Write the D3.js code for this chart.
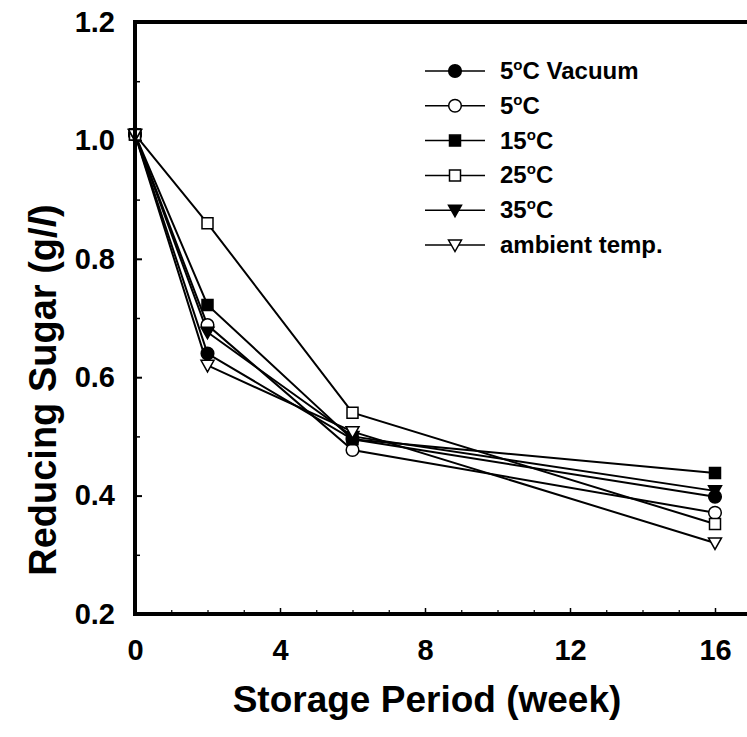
<!DOCTYPE html>
<html>
<head>
<meta charset="utf-8">
<script src="https://cdn.jsdelivr.net/npm/d3@7"></script>
<style>
  html, body { margin: 0; padding: 0; background: #fff; }
  svg { display: block; }
  text { font-family: "Liberation Sans", Arial, Helvetica, sans-serif; font-weight: bold; fill: #000; }
</style>
</head>
<body>
<svg id="chart" width="747" height="737"></svg>
<script>
// ---- data ----
const weeks = [0, 2, 6, 16];
const vacuum5 = [1.01, 0.640, 0.495, 0.398];
const temp5 = [1.01, 0.688, 0.477, 0.371];
const temp15 = [1.01, 0.722, 0.495, 0.438];
const temp25 = [1.01, 0.860, 0.540, 0.352];
const temp35 = [1.01, 0.676, 0.500, 0.408];
const ambient = [1.01, 0.620, 0.508, 0.320];
const seriesLabels = [["5", "C Vacuum"], ["5", "C"], ["15", "C"], ["25", "C"], ["35", "C"], ["ambient temp.", null]];
const xTickValues = [0, 4, 8, 12, 16];
const xMinorValues = [1, 2, 3, 5, 6, 7, 9, 10, 11, 13, 14, 15, 17];
const yTickValues = [0.2, 0.4, 0.6, 0.8, 1.0, 1.2];
const yMinorValues = [0.3, 0.5, 0.7, 0.9, 1.1];

const series = [
  { values: vacuum5, shape: "circle", filled: true },
  { values: temp5, shape: "circle", filled: false },
  { values: temp15, shape: "square", filled: true },
  { values: temp25, shape: "square", filled: false },
  { values: temp35, shape: "triangle", filled: true },
  { values: ambient, shape: "triangle", filled: false }
];

const svg = d3.select("#chart");
const mLeft = 135, mTop = 22, mBottom = 614, unit = 36.25;
const x = d3.scaleLinear().domain([0, 17]).range([mLeft, mLeft + 17 * unit]);
const y = d3.scaleLinear().domain([0.2, 1.2]).range([mBottom, mTop]);

function markerPath(shape) {
  if (shape === "circle") return d3.symbol(d3.symbolCircle, 125)();
  if (shape === "square") return "M-5.5,-5.5H5.5V5.5H-5.5Z";
  return "M-6.5,-5L6.5,-5L0,6.5Z";
}

// lines
const line = d3.line().x((d, i) => x(weeks[i])).y(d => y(d));
series.forEach(s => {
  svg.append("path").attr("d", line(s.values))
    .attr("fill", "none").attr("stroke", "#000").attr("stroke-width", 2);
});
// markers
series.forEach(s => {
  svg.append("g").selectAll("path").data(s.values).join("path")
    .attr("d", markerPath(s.shape))
    .attr("transform", (d, i) => `translate(${x(weeks[i])},${y(d)})`)
    .attr("fill", s.filled ? "#000" : "#fff")
    .attr("stroke", "#000").attr("stroke-width", 1.5);
});

// axes
const yAxis = d3.axisLeft(y).tickValues(yTickValues).tickFormat(d3.format(".1f"))
  .tickSizeInner(-7).tickSizeOuter(0).tickPadding(20);
const gy = svg.append("g").attr("transform", `translate(${mLeft},0)`).call(yAxis);
gy.selectAll(".tick line").attr("stroke-width", 2);
gy.selectAll("text").style("font-size", "29px");
gy.select(".domain").remove();
const gyMinor = svg.append("g").attr("transform", `translate(${mLeft},0)`)
  .call(d3.axisLeft(y).tickValues(yMinorValues).tickFormat("").tickSizeInner(-5).tickSizeOuter(0));
gyMinor.select(".domain").remove();
gyMinor.selectAll(".tick line").attr("stroke-width", 1.5);

const xAxis = d3.axisBottom(x).tickValues(xTickValues).tickFormat(d3.format("d"))
  .tickSizeInner(-6).tickSizeOuter(0).tickPadding(25);
const gx = svg.append("g").attr("transform", `translate(0,${mBottom})`).call(xAxis);
gx.select(".domain").remove();
gx.selectAll(".tick line").attr("stroke-width", 1.5);
gx.selectAll("text").style("font-size", "29px");
const gxMinor = svg.append("g").attr("transform", `translate(0,${mBottom})`)
  .call(d3.axisBottom(x).tickValues(xMinorValues).tickFormat("").tickSizeInner(-4).tickSizeOuter(0));
gxMinor.select(".domain").remove();
gxMinor.selectAll(".tick line").attr("stroke-width", 1.2);

// frame (left, bottom, top)
svg.append("path")
  .attr("d", `M${x(17)},${mTop}H${mLeft}V${mBottom}H${x(17)}`)
  .attr("fill", "none").attr("stroke", "#000").attr("stroke-width", 4)
  .attr("stroke-linejoin", "miter");

// axis titles
svg.append("text").attr("x", 427).attr("y", 712).attr("text-anchor", "middle")
  .style("font-size", "37px").text("Storage Period (week)");
const yt = svg.append("text").attr("transform", "translate(56,390) rotate(-90)")
  .attr("text-anchor", "middle").style("font-size", "38px");
yt.append("tspan").text("Reducing Sugar (g/");
yt.append("tspan").style("font-style", "italic").text("l");
yt.append("tspan").text(")");

// legend
const lgX1 = 425, lgX2 = 485, lgM = 455, lgT = 500, lgY0 = 71, lgDY = 34.8;
series.forEach((s, i) => {
  const yy = lgY0 + i * lgDY;
  svg.append("line").attr("x1", lgX1).attr("x2", lgX2).attr("y1", yy).attr("y2", yy)
    .attr("stroke", "#000").attr("stroke-width", 1.5);
  svg.append("path").attr("d", markerPath(s.shape))
    .attr("transform", `translate(${lgM},${yy})`)
    .attr("fill", s.filled ? "#000" : "#fff").attr("stroke", "#000").attr("stroke-width", 1.5);
  const t = svg.append("text").attr("x", lgT).attr("y", yy + 8).style("font-size", "24px");
  const lab = seriesLabels[i];
  t.append("tspan").text(lab[0]);
  if (lab[1] !== null) {
    t.append("tspan").attr("dy", -9).style("font-size", "15px").text("o");
    t.append("tspan").attr("dy", 9).text(lab[1]);
  }
});
</script>
</body>
</html>
